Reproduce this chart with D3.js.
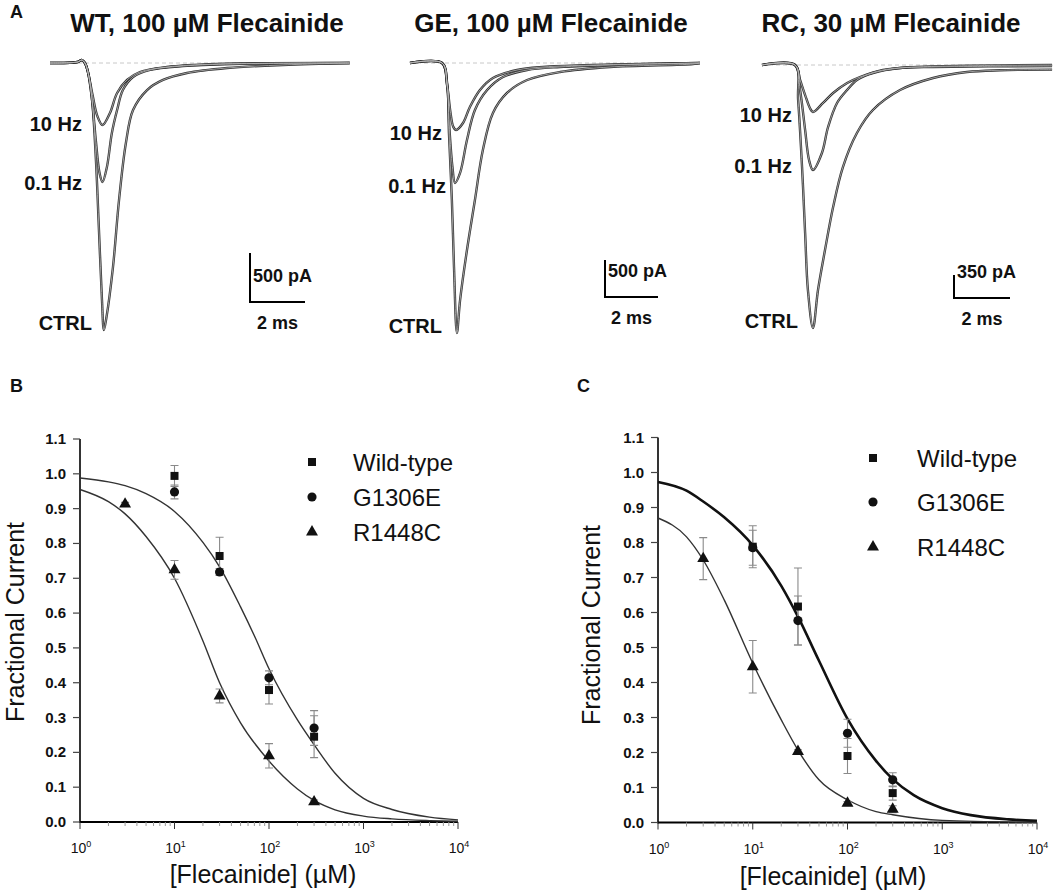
<!DOCTYPE html>
<html>
<head>
<meta charset="utf-8">
<script src="https://cdn.jsdelivr.net/npm/d3@7"></script>
<style>
  body { margin: 0; background: #fff; }
  svg { display: block; }
  text { font-family: "Liberation Sans", Arial, Helvetica, sans-serif; fill: #111; }
</style>
</head>
<body>
<svg id="fig" width="1059" height="896"></svg>
<script>
// ---------------------------------------------------------------------------
// Panel A: sodium current traces, [time (ms), current (pA)]
// ---------------------------------------------------------------------------
const aTitles = ["WT, 100 µM Flecainide", "GE, 100 µM Flecainide", "RC, 30 µM Flecainide"];
const traceLabels = ["CTRL", "0.1 Hz", "10 Hz"];
const barPa = [500, 500, 350];
const barMs = 2;

const wtCtrl = [[0,0],[1.0,10],[1.16,30],[1.27,0],[1.38,-92],[1.53,-378],[1.67,-990],[1.78,-1704],[1.89,-2418],[1.96,-2724],[2.05,-2600],[2.29,-2082],[2.51,-1398],[2.76,-816],[3.02,-480],[3.53,-276],[4.11,-173],[4.98,-102],[6.44,-51],[8.47,-20],[10.9,0]];
const wt01Hz = [[0,0],[1.0,10],[1.16,30],[1.27,0],[1.38,-92],[1.53,-378],[1.67,-800],[1.8,-1120],[1.91,-1214],[2.07,-1061],[2.25,-714],[2.44,-480],[2.65,-276],[3.02,-143],[3.64,-71],[4.84,-31],[6.65,-10],[10.9,0]];
const wt10Hz = [[0,0],[1.0,10],[1.16,30],[1.27,0],[1.38,-92],[1.55,-330],[1.72,-540],[1.91,-633],[2.18,-510],[2.44,-306],[2.80,-173],[3.27,-92],[4.25,-41],[6.07,-10],[10.9,0]];

const geCtrl = [[0,0],[1.21,0],[1.40,-270],[1.47,-946],[1.58,-1851],[1.66,-2757],[1.77,-3649],[1.89,-3203],[2.15,-2527],[2.45,-1851],[2.75,-1176],[3.13,-676],[3.66,-405],[4.42,-230],[5.66,-122],[7.55,-54],[10.68,-14],[10.94,0]];
const ge01Hz = [[0,0],[1.21,0],[1.40,-300],[1.49,-900],[1.60,-1400],[1.70,-1622],[1.89,-1486],[2.15,-1041],[2.45,-635],[2.91,-365],[3.51,-189],[4.42,-95],[5.66,-54],[7.55,-27],[10.94,0]];
const ge10Hz = [[0,0],[1.21,0],[1.40,-297],[1.52,-650],[1.63,-860],[1.74,-905],[2.0,-811],[2.26,-595],[2.64,-365],[3.13,-203],[4.04,-95],[5.02,-54],[6.91,-27],[10.94,0]];

const rcCtrl = [[0,0],[1.18,0],[1.29,-533],[1.43,-1553],[1.54,-2557],[1.64,-3425],[1.82,-4003],[2.0,-3425],[2.25,-2816],[2.54,-2161],[2.89,-1553],[3.39,-1035],[3.96,-685],[4.93,-381],[6.11,-198],[7.32,-107],[8.5,-80],[10.36,-70]];
const rc01Hz = [[0,0],[1.18,0],[1.36,-381],[1.54,-989],[1.68,-1446],[1.82,-1598],[2.14,-1339],[2.36,-944],[2.68,-578],[3.04,-381],[3.39,-228],[3.96,-122],[4.93,-46],[6.11,-30],[10.36,-15]];
const rc10Hz = [[0,0],[1.18,0],[1.36,-228],[1.54,-457],[1.71,-654],[1.82,-715],[2.18,-578],[2.54,-426],[3.04,-274],[3.5,-183],[4.32,-76],[5.54,-30],[10.36,0]];

const aTraces = [[wtCtrl, wt01Hz, wt10Hz], [geCtrl, ge01Hz, ge10Hz], [rcCtrl, rc01Hz, rc10Hz]];

// ---------------------------------------------------------------------------
// Panels B, C: dose-response, fractional current vs [flecainide] (µM)
// ---------------------------------------------------------------------------
const seriesNames = ["Wild-type", "G1306E", "R1448C"];
const concWG = [10, 30, 100, 300];
const concR = [3, 10, 30, 100, 300];

const wtB = [0.994, 0.764, 0.379, 0.245];
const wtBerr = [0.03, 0.054, 0.04, 0.06];
const geB = [0.948, 0.718, 0.414, 0.270];
const geBerr = [0.02, 0.01, 0.02, 0.05];
const rcB = [0.913, 0.724, 0.362, 0.190, 0.058];
const rcBerr = [0.005, 0.027, 0.02, 0.035, 0.005];

const wtC = [0.788, 0.617, 0.190, 0.084];
const wtCerr = [0.06, 0.11, 0.05, 0.02];
const geC = [0.785, 0.577, 0.255, 0.122];
const geCerr = [0.05, 0.07, 0.04, 0.02];
const rcC = [0.754, 0.445, 0.203, 0.055, 0.038];
const rcCerr = [0.06, 0.075, 0.005, 0.005, 0.01];

// fitted curves
const fitConcB1 = [1, 2, 3, 5, 10, 20, 30, 50, 70, 100, 200, 300, 500, 1000, 2000, 5000, 10000];
const fitB1 = [0.988, 0.977, 0.966, 0.943, 0.892, 0.803, 0.733, 0.618, 0.535, 0.44, 0.293, 0.222, 0.14, 0.068, 0.036, 0.014, 0.006];
const fitConcB2 = [1, 2, 3, 5, 10, 20, 30, 50, 100, 200, 300, 500, 1000, 2000, 5000, 10000];
const fitB2 = [0.955, 0.92, 0.885, 0.82, 0.70, 0.52, 0.40, 0.285, 0.175, 0.095, 0.062, 0.035, 0.017, 0.009, 0.004, 0.002];
const fitConcC1 = [1, 2, 3, 5, 10, 20, 30, 50, 100, 200, 300, 500, 1000, 2000, 5000, 10000];
const fitC1 = [0.973, 0.948, 0.917, 0.872, 0.792, 0.676, 0.588, 0.462, 0.296, 0.176, 0.124, 0.078, 0.041, 0.021, 0.009, 0.005];
const fitConcC2 = [1, 2, 3, 5, 10, 20, 30, 50, 100, 200, 300, 1000, 10000];
const fitC2 = [0.87, 0.816, 0.75, 0.636, 0.455, 0.293, 0.207, 0.122, 0.065, 0.031, 0.022, 0.006, 0.0005];

const yTicks = d3.range(0, 1.101, 0.1);

// ---------------------------------------------------------------------------
// drawing
// ---------------------------------------------------------------------------
const svg = d3.select("#fig");
svg.append("rect").attr("width", 1059).attr("height", 896).attr("fill", "#fff");

const panelLetters = [["A", 10, 18], ["B", 10, 392], ["C", 577, 392]];
panelLetters.forEach(([t, x, y]) => {
  svg.append("text").attr("x", x).attr("y", y)
    .attr("font-size", 18).attr("font-weight", "bold").text(t);
});

// layout of the three trace panels
const aLayout = [
  { x0: 50,  y0: 63, msPx: 27.5, paPx: 0.098,  tEnd: 10.9,  titleX: 207, bar: [250, 302], lbl: [[92, 330], [82, 131 + 59], [82, 131]] },
  { x0: 410, y0: 63, msPx: 26.5, paPx: 0.074,  tEnd: 10.94, titleX: 551, bar: [605, 297], lbl: [[442, 333], [446, 193], [442, 140]] },
  { x0: 762, y0: 65, msPx: 28,   paPx: 0.0657, tEnd: 10.36, titleX: 891, bar: [954, 298], lbl: [[798, 328], [792, 173], [792, 122]] },
];

aLayout.forEach((L, i) => {
  const x = d3.scaleLinear().domain([0, L.tEnd]).range([L.x0, L.x0 + L.tEnd * L.msPx]);
  const y = d3.scaleLinear().domain([0, -1000]).range([L.y0, L.y0 + 1000 * L.paPx]);
  const g = svg.append("g");

  g.append("text").attr("x", L.titleX).attr("y", 32).attr("text-anchor", "middle")
    .attr("font-size", 26).attr("font-weight", "bold").text(aTitles[i]);

  // zero-current reference
  g.append("line")
    .attr("x1", x(0)).attr("x2", x(L.tEnd)).attr("y1", y(0)).attr("y2", y(0))
    .attr("stroke", "#c8c8c8").attr("stroke-width", 1).attr("stroke-dasharray", "4,3");

  // traces: dark outline with a pale core, as in the scanned figure
  const line = d3.line().x(d => x(d[0])).y(d => y(d[1])).curve(d3.curveCatmullRom.alpha(0.5));
  aTraces[i].forEach(tr => {
    g.append("path").attr("d", line(tr)).attr("fill", "none")
      .attr("stroke", "#333").attr("stroke-width", 2.4).attr("stroke-linejoin", "round");
  });
  aTraces[i].forEach(tr => {
    g.append("path").attr("d", line(tr)).attr("fill", "none")
      .attr("stroke", "#b8b8b8").attr("stroke-width", 0.8).attr("stroke-linejoin", "round");
  });

  traceLabels.forEach((t, j) => {
    g.append("text").attr("x", L.lbl[j][0]).attr("y", L.lbl[j][1]).attr("text-anchor", "end")
      .attr("font-size", 20).attr("font-weight", "bold").text(t);
  });

  // scale bar
  const [bx, by] = L.bar;
  const h = y(-barPa[i]) - y(0);
  const w = x(barMs) - x(0);
  g.append("path").attr("d", `M${bx},${by - h}V${by}H${bx + w}`)
    .attr("fill", "none").attr("stroke", "#000").attr("stroke-width", 2);
  g.append("text").attr("x", bx + 3).attr("y", by - 20)
    .attr("font-size", 18).attr("font-weight", "bold").text(`${barPa[i]} pA`);
  g.append("text").attr("x", bx + w / 2).attr("y", by + 27).attr("text-anchor", "middle")
    .attr("font-size", 18).attr("font-weight", "bold").text(`${barMs} ms`);
});

// dose-response panels
const doseLayout = [
  { left: 80,  right: 458,  top: 439,   bottom: 822,   ylab: [24, 622],  xlab: [263, 883], legX: 312, legTextX: 353, legY: [462, 497, 532] },
  { left: 658, right: 1037, top: 437.5, bottom: 822.5, ylab: [600, 625], xlab: [833, 885], legX: 873, legTextX: 917, legY: [458, 502, 547] },
];
const doseData = [
  { pts: [[concWG, wtB, wtBerr], [concWG, geB, geBerr], [concR, rcB, rcBerr]],
    fits: [[fitConcB1, fitB1, 1.4], [fitConcB2, fitB2, 1.4]] },
  { pts: [[concWG, wtC, wtCerr], [concWG, geC, geCerr], [concR, rcC, rcCerr]],
    fits: [[fitConcC1, fitC1, 2.6], [fitConcC2, fitC2, 1.4]] },
];
const symbols = [d3.symbolSquare, d3.symbolCircle, d3.symbolTriangle];
const symSize = [64, 66, 62];

doseLayout.forEach((L, p) => {
  const D = doseData[p];
  const x = d3.scaleLog().domain([1, 1e4]).range([L.left, L.right]);
  const y = d3.scaleLinear().domain([0, 1.1]).range([L.bottom, L.top]);
  const g = svg.append("g");

  // y axis
  g.append("line").attr("x1", L.left).attr("x2", L.left).attr("y1", L.top).attr("y2", L.bottom + 1)
    .attr("stroke", "#000").attr("stroke-width", 1.6);
  yTicks.forEach(v => {
    g.append("line").attr("x1", L.left - 7).attr("x2", L.left).attr("y1", y(v)).attr("y2", y(v))
      .attr("stroke", "#444").attr("stroke-width", 1.2);
    g.append("text").attr("x", L.left - 14).attr("y", y(v) + 5).attr("text-anchor", "end")
      .attr("font-size", 15).attr("font-weight", "bold").attr("fill", "#222").text(v.toFixed(1));
  });

  // x axis
  g.append("line").attr("x1", L.left).attr("x2", L.right).attr("y1", L.bottom).attr("y2", L.bottom)
    .attr("stroke", "#000").attr("stroke-width", 1.8);
  x.ticks().forEach(v => {
    const major = Math.abs(Math.log10(v) - Math.round(Math.log10(v))) < 1e-9;
    g.append("line").attr("x1", x(v)).attr("x2", x(v)).attr("y1", L.bottom)
      .attr("y2", L.bottom + (major ? 7 : 4))
      .attr("stroke", major ? "#333" : "#999").attr("stroke-width", 1);
    if (major) {
      const t = g.append("text").attr("x", x(v) + 1).attr("y", L.bottom + 31)
        .attr("text-anchor", "middle").attr("font-size", 14).attr("fill", "#222");
      t.append("tspan").text("10");
      t.append("tspan").attr("dy", -6).attr("font-size", 9).text(String(Math.round(Math.log10(v))));
    }
  });

  // axis titles
  g.append("text").attr("transform", `translate(${L.ylab[0]},${L.ylab[1]}) rotate(-90)`)
    .attr("text-anchor", "middle").attr("font-size", 25).text("Fractional Current");
  g.append("text").attr("x", L.xlab[0]).attr("y", L.xlab[1]).attr("text-anchor", "middle")
    .attr("font-size", 25).text("[Flecainide] (µM)");

  // fitted curves
  const line = d3.line().x(d => x(d[0])).y(d => y(d[1])).curve(d3.curveMonotoneX);
  D.fits.forEach(([cs, vs, sw]) => {
    g.append("path").attr("d", line(cs.map((c, k) => [c, vs[k]])))
      .attr("fill", "none").attr("stroke", sw > 2 ? "#111" : "#333").attr("stroke-width", sw);
  });

  // error bars then markers
  D.pts.forEach(([cs, vs, es]) => {
    cs.forEach((c, k) => {
      const cx = x(c), y1 = y(vs[k] + es[k]), y2 = y(vs[k] - es[k]);
      g.append("path").attr("d", `M${cx},${y1}V${y2}M${cx - 4},${y1}H${cx + 4}M${cx - 4},${y2}H${cx + 4}`)
        .attr("fill", "none").attr("stroke", "#8a8a8a").attr("stroke-width", 1.1);
    });
  });
  D.pts.forEach(([cs, vs], s) => {
    const sym = d3.symbol().type(symbols[s]).size(symSize[s]);
    cs.forEach((c, k) => {
      g.append("path").attr("d", sym()).attr("transform", `translate(${x(c)},${y(vs[k])})`)
        .attr("fill", "#111");
    });
  });

  // legend
  seriesNames.forEach((name, s) => {
    const sym = d3.symbol().type(symbols[s]).size(symSize[s]);
    g.append("path").attr("d", sym()).attr("transform", `translate(${L.legX},${L.legY[s]})`).attr("fill", "#111");
    g.append("text").attr("x", L.legTextX).attr("y", L.legY[s] + 9).attr("font-size", 24).text(name);
  });
});
</script>
</body>
</html>
